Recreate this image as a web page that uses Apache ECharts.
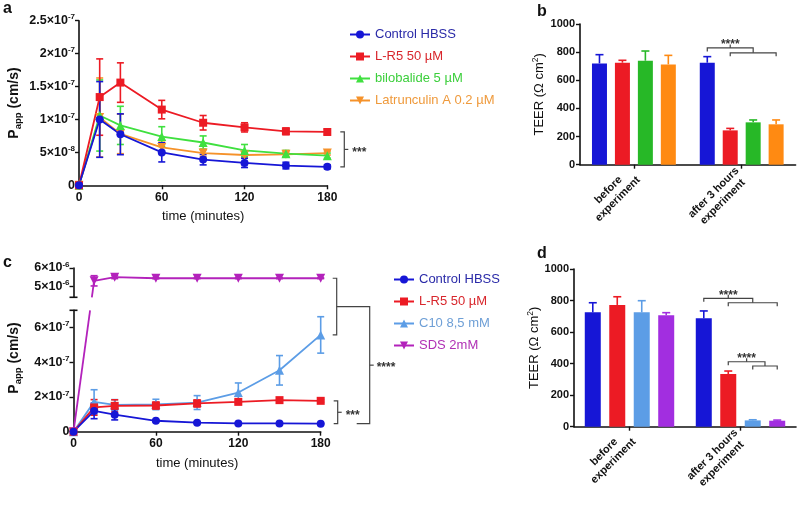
<!DOCTYPE html>
<html><head><meta charset="utf-8">
<script src="https://cdn.jsdelivr.net/npm/echarts@6/dist/echarts.min.js"></script>
<style>html,body{margin:0;padding:0;background:#fff}#c{width:800px;height:506px}</style>
</head><body><div id="c"></div><script>
// ---------- DATA ----------
const times = [0, 15, 30, 60, 90, 120, 150, 180];
const xTicks = [0, 60, 120, 180];

// Panel a : Papp (cm/s)
const aNames = ['Control HBSS', 'L-R5 50 µM', 'bilobalide 5 µM', 'Latrunculin A 0.2 µM'];
const aControl   = [0, 1.00e-7, 7.75e-8, 5.0e-8, 3.9e-8, 3.4e-8, 3.0e-8, 2.8e-8];
const aControlSd = [0, 5.75e-8, 3.1e-8, 1.45e-8, 0.8e-8, 0.7e-8, 0.5e-8, 0.3e-8];
const aLR5       = [0, 1.34e-7, 1.56e-7, 1.15e-7, 0.95e-7, 0.88e-7, 0.82e-7, 0.81e-7];
const aLR5Sd     = [0, 5.8e-8, 3.0e-8, 1.4e-8, 1.1e-8, 0.7e-8, 0.5e-8, 0.4e-8];
const aBilo      = [0, 1.06e-7, 0.91e-7, 0.74e-7, 0.65e-7, 0.53e-7, 0.48e-7, 0.45e-7];
const aBiloSd    = [0, 5.4e-8, 2.9e-8, 1.5e-8, 1.0e-8, 0.9e-8, 0.5e-8, 0.4e-8];
const aLat       = [0, 1.03e-7, 0.78e-7, 0.575e-7, 0.49e-7, 0.46e-7, 0.47e-7, 0.49e-7];
const aLatSd     = [0, 6.0e-8, 3.0e-8, 0.8e-8, 0.5e-8, 0.4e-8, 0.3e-8, 0.3e-8];

// Panel b : TEER (Ohm cm2)
const teerCats = ['before\nexperiment', 'after 3 hours\nexperiment'];
const bControl = [720, 725];  const bControlSd = [62, 43];
const bLR5     = [725, 244];  const bLR5Sd     = [17, 14];
const bBilo    = [739, 301];  const bBiloSd    = [69, 17];
const bLat     = [713, 287];  const bLatSd     = [64, 31];

// Panel c : Papp (cm/s)
const cNames = ['Control HBSS', 'L-R5 50 µM', 'C10 8,5 mM', 'SDS 2mM'];
const cControl   = [0, 1.2e-7, 0.98e-7, 0.63e-7, 0.52e-7, 0.48e-7, 0.48e-7, 0.46e-7];
const cControlSd = [0, 0.45e-7, 0.3e-7, 0.05e-7, 0.04e-7, 0.03e-7, 0.03e-7, 0.03e-7];
const cLR5       = [0, 1.40e-7, 1.49e-7, 1.51e-7, 1.63e-7, 1.72e-7, 1.82e-7, 1.78e-7];
const cLR5Sd     = [0, 0.45e-7, 0.35e-7, 0.2e-7, 0.2e-7, 0.1e-7, 0.08e-7, 0.08e-7];
const cC10       = [0, 1.72e-7, 1.55e-7, 1.57e-7, 1.68e-7, 2.26e-7, 3.54e-7, 5.58e-7];
const cC10Sd     = [0, 0.7e-7, 0.3e-7, 0.3e-7, 0.4e-7, 0.55e-7, 0.85e-7, 1.05e-7];
const cSDS       = [0, 5.3e-6, 5.5e-6, 5.44e-6, 5.44e-6, 5.44e-6, 5.44e-6, 5.44e-6];
const cSDSSd     = [0, 0.28e-6, 0.08e-6, 0.03e-6, 0.02e-6, 0.02e-6, 0.02e-6, 0.02e-6];
const cLowTicks  = [0, 2e-7, 4e-7, 6e-7];
const cHighTicks = [5e-6, 6e-6];

// Panel d : TEER (Ohm cm2)
const dControl = [725, 687];  const dControlSd = [61, 47];
const dLR5     = [772, 334];  const dLR5Sd     = [52, 19];
const dC10     = [725, 40];   const dC10Sd     = [74, 4];
const dSDS     = [706, 38];   const dSDSSd     = [17, 4];

// ---------- STYLE ----------
const FONT = '"Liberation Sans", Arial, Helvetica, sans-serif';
const INK = '#111';
const C = {
  blue: '#1616d6', red: '#ec1b24', greenL: '#3fe03f', greenB: '#27b827',
  orangeL: '#f5922a', orangeB: '#ff8a12', lblue: '#5c9de6', magenta: '#b322bb', purple: '#a22ee0'
};
const txtCol = { blue: '#2a2aa8', red: '#d8262c', green: '#3ccf3c', orange: '#ef9a3c', lblue: '#6e9fd6', magenta: '#b030b5' };

const chart = echarts.init(document.getElementById('c'), null, { renderer: 'canvas' });

const axisLine = { show: true, onZero: false, lineStyle: { color: INK, width: 1.6 } };
const axisTick = { show: true, length: 4, lineStyle: { color: INK, width: 1.4 } };
const sciRich = {
  m: { fontFamily: FONT, fontWeight: 'bold', fontSize: 12.5, color: INK, lineHeight: 15 },
  s: { fontFamily: FONT, fontWeight: 'bold', fontSize: 8, color: INK, verticalAlign: 'top', lineHeight: 9 }
};
function sciFmt(v) {
  if (v === 0) return '{m|0}';
  const parts = v.toExponential(1).split('e');
  return '{m|' + parseFloat(parts[0]) + '×10}{s|' + parts[1] + '}';
}
const pappName = '{p|P}{sub|app}{p| (cm/s)}';
const pappRich = {
  p: { fontFamily: FONT, fontWeight: 'bold', fontSize: 14, color: INK, lineHeight: 18 },
  sub: { fontFamily: FONT, fontWeight: 'bold', fontSize: 9.5, color: INK, verticalAlign: 'bottom', lineHeight: 12 }
};
const teerName = '{t|TEER (Ω cm}{s|2}{t|)}';
const teerRich = {
  t: { fontFamily: FONT, fontSize: 13, color: INK, lineHeight: 16 },
  s: { fontFamily: FONT, fontSize: 8.5, color: INK, verticalAlign: 'top', lineHeight: 10 }
};
const boldLab = { fontFamily: FONT, fontWeight: 'bold', fontSize: 12, color: INK };
const catLabel = {
  rotate: 45, margin: 9, interval: 0,
  formatter: v => v.split('\n').map(s => '{c|' + s + '}').join('\n'),
  rich: { c: { align: 'center', fontFamily: FONT, fontWeight: 'bold', fontSize: 11, color: INK, lineHeight: 13 } }
};

function timeX(gi, show) {
  return {
    gridIndex: gi, type: 'value', min: 0, max: 180, interval: 60, show: show,
    axisLine, axisTick, splitLine: { show: false },
    axisLabel: Object.assign({ margin: 6 }, boldLab),
    name: show ? 'time (minutes)' : '', nameLocation: 'middle', nameGap: 25,
    nameTextStyle: { fontFamily: FONT, fontSize: 13, color: INK }
  };
}
function teerY(gi, gap) {
  return {
    gridIndex: gi, type: 'value', min: 0, max: 1000, interval: 200,
    axisLine, axisTick, splitLine: { show: false },
    axisLabel: { margin: 5, fontFamily: FONT, fontWeight: 'bold', fontSize: 11, color: INK, formatter: v => String(v) },
    name: teerName, nameLocation: 'middle', nameRotate: 90, nameGap: gap,
    nameTextStyle: { rich: teerRich }
  };
}
function catX(gi) {
  return {
    gridIndex: gi, type: 'category', data: teerCats,
    axisLine, axisTick: Object.assign({ alignWithLabel: true }, axisTick),
    axisLabel: catLabel, splitLine: { show: false }
  };
}

function pairs(xs, ys) { return xs.map((x, i) => [x, ys[i]]); }
function lineSeries(name, gi, xs, ys, color, symbol, rot) {
  return {
    type: 'line', name, xAxisIndex: gi, yAxisIndex: gi, data: pairs(xs, ys),
    symbol, symbolSize: symbol === 'rect' ? 8 : (symbol === 'circle' ? 8 : 9), symbolRotate: rot || 0,
    lineStyle: { color, width: 1.8 }, itemStyle: { color }, animation: false
  };
}
function errSeries(gi, xs, ys, sds, color) {
  return {
    type: 'custom', name: 'err', xAxisIndex: gi, yAxisIndex: gi, clip: false,
    data: xs.map((x, i) => [x, ys[i], sds[i]]), encode: { x: 0, y: 1 },
    renderItem: (p, api) => {
      const e = api.value(2); if (!e) return null;
      const t = api.coord([api.value(0), api.value(1) + e]);
      const b = api.coord([api.value(0), api.value(1) - e]);
      const st = { stroke: color, lineWidth: 1.6 };
      return { type: 'group', children: [
        { type: 'line', shape: { x1: t[0], y1: t[1], x2: b[0], y2: b[1] }, style: st },
        { type: 'line', shape: { x1: t[0] - 3.5, y1: t[1], x2: t[0] + 3.5, y2: t[1] }, style: st },
        { type: 'line', shape: { x1: b[0] - 3.5, y1: b[1], x2: b[0] + 3.5, y2: b[1] }, style: st }
      ] };
    }
  };
}
const BAR_W = 15, BAR_GAP = 0.53;
function barSeries(gi, vals, color, bw) {
  return { type: 'bar', name: 'bar', xAxisIndex: gi, yAxisIndex: gi, data: vals, barWidth: bw,
    barGap: (BAR_GAP * 100) + '%', itemStyle: { color }, animation: false };
}
function barErr(gi, vals, sds, idx, color, bw) {
  return {
    type: 'custom', name: 'berr', xAxisIndex: gi, yAxisIndex: gi, z: 3,
    data: vals.map((v, i) => [i, v, sds[i]]), encode: { x: 0, y: 1 },
    renderItem: (p, api) => {
      const c = api.coord([api.value(0), api.value(1)]);
      const t = api.coord([api.value(0), api.value(1) + api.value(2)]);
      const x = c[0] + (idx - 1.5) * bw * (1 + BAR_GAP);
      const st = { stroke: color, lineWidth: 1.6 };
      return { type: 'group', children: [
        { type: 'line', shape: { x1: x, y1: c[1], x2: x, y2: t[1] }, style: st },
        { type: 'line', shape: { x1: x - 4, y1: t[1], x2: x + 4, y2: t[1] }, style: st }
      ] };
    }
  };
}

// split SDS into the two segments of the broken axis
const cLowMax = 7e-7, cHighMin = 4.4e-6, cHighMax = 6e-6;
const sdsLowT = times.filter((t, i) => cSDS[i] <= cLowMax);
const sdsLowV = cSDS.filter(v => v <= cLowMax);
const sdsHighT = times.filter((t, i) => cSDS[i] >= cHighMin);
const sdsHighV = cSDS.filter(v => v >= cHighMin);
const sdsHighSd = cSDSSd.filter((s, i) => cSDS[i] >= cHighMin);

const option = {
  animation: false,
  backgroundColor: '#fff',
  textStyle: { fontFamily: FONT },
  grid: [
    { left: 79, top: 20.7, width: 248.3, height: 164.6 },
    { left: 580, top: 24, width: 215.6, height: 140.7 },
    { left: 73.5, top: 268, width: 247.2, height: 29.3 },
    { left: 73.5, top: 310.3, width: 247.2, height: 121.4 },
    { left: 574, top: 269, width: 222, height: 157.7 }
  ],
  xAxis: [ timeX(0, true), catX(1), timeX(2, false), timeX(3, true), catX(4) ],
  yAxis: [
    { gridIndex: 0, type: 'value', min: 0, max: 2.5e-7, interval: 5e-8, axisLine, axisTick, splitLine: { show: false },
      axisLabel: { margin: 4, formatter: sciFmt, rich: sciRich },
      name: pappName, nameLocation: 'middle', nameRotate: 90, nameGap: 56, nameTextStyle: { rich: pappRich } },
    teerY(1, 33),
    { gridIndex: 2, type: 'value', min: cHighMin, max: cHighMax, axisLine, splitLine: { show: false },
      axisTick: Object.assign({ customValues: cHighTicks }, axisTick),
      axisLabel: { margin: 4, formatter: sciFmt, rich: sciRich, customValues: cHighTicks } },
    { gridIndex: 3, type: 'value', min: 0, max: cLowMax, axisLine, splitLine: { show: false },
      axisTick: Object.assign({ customValues: cLowTicks }, axisTick),
      axisLabel: { margin: 4, formatter: sciFmt, rich: sciRich, customValues: cLowTicks },
      name: pappName, nameLocation: 'middle', nameRotate: 90, nameGap: 50,
      nameTextStyle: { rich: pappRich, padding: [0, 0, 0, 26] } },
    teerY(4, 30)
  ],
  legend: [
    { orient: 'vertical', left: 344, top: 23, itemWidth: 20, itemHeight: 10, itemGap: 9,
      textStyle: { fontFamily: FONT, fontSize: 13 },
      data: [
        { name: aNames[0], textStyle: { color: txtCol.blue } },
        { name: aNames[1], textStyle: { color: txtCol.red } },
        { name: aNames[2], textStyle: { color: txtCol.green } },
        { name: aNames[3], textStyle: { color: txtCol.orange } }
      ] },
    { orient: 'vertical', left: 388, top: 268, itemWidth: 20, itemHeight: 10, itemGap: 9,
      textStyle: { fontFamily: FONT, fontSize: 13 },
      data: [
        { name: cNames[0], textStyle: { color: txtCol.blue } },
        { name: cNames[1], textStyle: { color: txtCol.red } },
        { name: cNames[2], textStyle: { color: txtCol.lblue } },
        { name: cNames[3], textStyle: { color: txtCol.magenta } }
      ] }
  ],
  series: [
    // panel a (Control drawn last = on top)
    errSeries(0, times, aLat, aLatSd, C.orangeL),
    lineSeries(aNames[3], 0, times, aLat, C.orangeL, 'triangle', 180),
    errSeries(0, times, aBilo, aBiloSd, C.greenL),
    lineSeries(aNames[2], 0, times, aBilo, C.greenL, 'triangle'),
    errSeries(0, times, aLR5, aLR5Sd, C.red),
    lineSeries(aNames[1], 0, times, aLR5, C.red, 'rect'),
    errSeries(0, times, aControl, aControlSd, C.blue),
    lineSeries(aNames[0], 0, times, aControl, C.blue, 'circle'),
    // panel b
    barSeries(1, bControl, C.blue, BAR_W), barSeries(1, bLR5, C.red, BAR_W),
    barSeries(1, bBilo, C.greenB, BAR_W), barSeries(1, bLat, C.orangeB, BAR_W),
    barErr(1, bControl, bControlSd, 0, C.blue, BAR_W), barErr(1, bLR5, bLR5Sd, 1, C.red, BAR_W),
    barErr(1, bBilo, bBiloSd, 2, C.greenB, BAR_W), barErr(1, bLat, bLatSd, 3, C.orangeB, BAR_W),
    // panel c upper segment
    errSeries(2, sdsHighT, sdsHighV, sdsHighSd, C.magenta),
    lineSeries(cNames[3], 2, sdsHighT, sdsHighV, C.magenta, 'triangle', 180),
    // panel c lower segment
    lineSeries(cNames[3], 3, sdsLowT, sdsLowV, C.magenta, 'triangle', 180),
    errSeries(3, times, cC10, cC10Sd, C.lblue),
    lineSeries(cNames[2], 3, times, cC10, C.lblue, 'triangle'),
    errSeries(3, times, cLR5, cLR5Sd, C.red),
    lineSeries(cNames[1], 3, times, cLR5, C.red, 'rect'),
    errSeries(3, times, cControl, cControlSd, C.blue),
    lineSeries(cNames[0], 3, times, cControl, C.blue, 'circle'),
    // panel d
    barSeries(4, dControl, C.blue, 16), barSeries(4, dLR5, C.red, 16),
    barSeries(4, dC10, C.lblue, 16), barSeries(4, dSDS, C.purple, 16),
    barErr(4, dControl, dControlSd, 0, C.blue, 16), barErr(4, dLR5, dLR5Sd, 1, C.red, 16),
    barErr(4, dC10, dC10Sd, 2, C.lblue, 16), barErr(4, dSDS, dSDSSd, 3, C.purple, 16)
  ]
};
chart.setOption(option);

// ---------- annotations derived from the axes ----------
const px = (gi, pt) => chart.convertToPixel({ xAxisIndex: gi, yAxisIndex: gi }, pt);
const G = [];
const BR = { stroke: '#444', lineWidth: 1.2 };
const poly = pts => G.push({ type: 'polyline', shape: { points: pts }, style: Object.assign({ fill: null }, BR), silent: true });
const txt = (x, y, s, opt) => G.push({ type: 'text', x, y, style: Object.assign({ text: s, fill: '#333', font: 'bold 12px ' + FONT }, opt || {}), silent: true });

// panel letters
txt(3, 1, 'a', { font: 'bold 16px ' + FONT, fill: '#111' });
txt(537, 4, 'b', { font: 'bold 16px ' + FONT, fill: '#111' });
txt(3, 255, 'c', { font: 'bold 16px ' + FONT, fill: '#111' });
txt(537, 246, 'd', { font: 'bold 16px ' + FONT, fill: '#111' });

// vertical bracket helper (ticks left at ends, mid tick right + label)
function vBracket(x, y1, y2, label) {
  poly([[x - 4, y1], [x, y1], [x, y2], [x - 4, y2]]);
  const m = (y1 + y2) / 2;
  poly([[x, m], [x + 4, m]]);
  if (label) txt(x + 8, m + 3, label, { verticalAlign: 'middle', textVerticalAlign: 'middle' });
  return m;
}
// panel a
{
  const n = times.length - 1;
  const top = px(0, [180, aLR5[n]]), bot = px(0, [180, aControl[n]]);
  vBracket(top[0] + 17, top[1], bot[1], '***');
}
// panel c
{
  const n = times.length - 1;
  const r = px(3, [180, cLR5[n]]), b = px(3, [180, cControl[n]]);
  const x1 = r[0] + 17;
  vBracket(x1, r[1], b[1], '***');
  const s = px(2, [180, cSDS[n]]), c10 = px(3, [180, cC10[n]]);
  const x2 = s[0] + 16;
  poly([[x2 - 4, s[1]], [x2, s[1]], [x2, c10[1]], [x2 - 4, c10[1]]]);
  const m2 = (s[1] + c10[1]) / 2;
  const x3 = x2 + 33;
  poly([[x2, m2], [x3, m2], [x3, b[1]], [x3 - 13, b[1]]]);
  const m3 = (m2 + b[1]) / 2;
  poly([[x3, m3], [x3 + 4, m3]]);
  txt(x3 + 7, m3 + 3, '****', { verticalAlign: 'middle', textVerticalAlign: 'middle' });

  // broken-axis end caps
  const capU = px(2, [0, cHighMin]), capL = px(3, [0, cLowMax]);
  G.push({ type: 'line', shape: { x1: capU[0] - 4, y1: capU[1], x2: capU[0] + 4, y2: capU[1] }, style: { stroke: INK, lineWidth: 1.6 } });
  G.push({ type: 'line', shape: { x1: capL[0] - 4, y1: capL[1], x2: capL[0] + 4, y2: capL[1] }, style: { stroke: INK, lineWidth: 1.6 } });

  // SDS segment crossing the axis break (straight in screen space, clipped at the gap)
  const p0 = px(3, [sdsLowT[sdsLowT.length - 1], sdsLowV[sdsLowV.length - 1]]);
  const p1 = px(2, [sdsHighT[0], sdsHighV[0]]);
  const atY = y => p0[0] + (p1[0] - p0[0]) * (y - p0[1]) / (p1[1] - p0[1]);
  const st = { stroke: C.magenta, lineWidth: 1.8 };
  G.push({ type: 'line', z: 1, shape: { x1: p0[0], y1: p0[1], x2: atY(capL[1]), y2: capL[1] }, style: st });
  G.push({ type: 'line', z: 1, shape: { x1: atY(capU[1]), y1: capU[1], x2: p1[0], y2: p1[1] }, style: st });
}
// horizontal bracket pair (A joins left bar with the middle of B)
function barCenter(gi, cat, idx, bw) {
  const c = px(gi, [cat, 0]);
  return c[0] + (idx - 1.5) * bw * (1 + BAR_GAP);
}
function hPair(gi, bw, leftIdx, bFrom, bTo, yA, yB) {
  const xL = barCenter(gi, 1, leftIdx, bw);
  const xb1 = barCenter(gi, 1, bFrom, bw), xb2 = barCenter(gi, 1, bTo, bw);
  const mB = (xb1 + xb2) / 2;
  const pA = px(gi, [1, yA])[1], pB = px(gi, [1, yB])[1];
  poly([[xL, pA + 3.5], [xL, pA], [mB, pA], [mB, pB]]);
  poly([[xb1, pB + 3.5], [xb1, pB], [xb2, pB], [xb2, pB + 3.5]]);
  const mA = (xL + mB) / 2;
  poly([[mA, pA], [mA, pA - 3.5]]);
  txt(mA, pA - 3, '****', { align: 'center', verticalAlign: 'middle', textAlign: 'center', textVerticalAlign: 'middle' });
}
hPair(1, BAR_W, 0, 1, 3, 830, 795);
hPair(4, 16, 0, 1, 3, 814, 786);
hPair(4, 16, 1, 2, 3, 412, 385);

chart.setOption({ graphic: { elements: G } });
</script></body></html>
